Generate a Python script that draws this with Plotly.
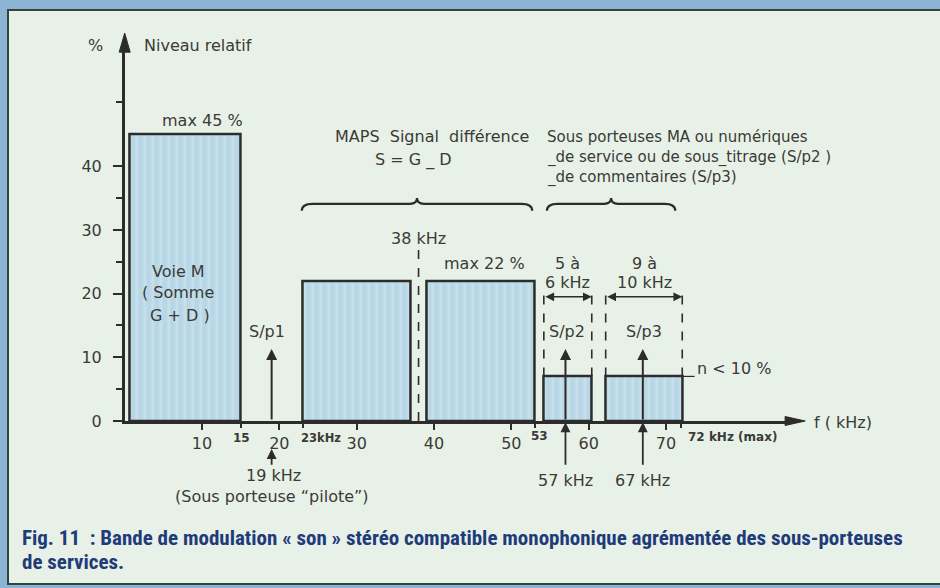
import plotly.graph_objects as go

# ---------------- data ----------------
# occupied bands of the stereo multiplex (kHz) and their maximum relative level (%)
band_names = ["Voie M", "MAPS bas", "MAPS haut", "S/p2", "S/p3"]
band_start = [0.7, 23.0, 39.0, 54.2, 62.2]
band_end = [15.0, 37.0, 53.0, 60.4, 72.1]
band_level = [45, 22, 22, 7, 7]

# sub-carriers (kHz)
carrier_names = ["S/p1", "S/p2", "S/p3"]
carrier_freq = [19, 57, 67]
carrier_top = 11.3

# suppressed stereo carrier (kHz)
stereo_carrier = 38

# axis ticks
x_tick_vals = [10, 20, 30, 40, 50, 60, 70]
x_minor_vals = [15, 23, 53, 72]
y_tick_vals = [0, 10, 20, 30, 40]
y_minor_vals = [5, 15, 25, 35, 50]

# ---------------- geometry of the drawing ----------------
W, H = 940, 588
X0_PX, KHZ_PX = 124.7, 7.733     # pixel of 0 kHz, pixels per kHz
Y0_PX, PCT_PX = 421.0, 6.37      # pixel of 0 %, pixels per %
X_MAX, Y_MAX = 86.0, 58.5        # extent of the drawn axes

INK = "#3a3a36"
LINE = "#2c2c2a"
BAR_FILL = "#b8d7e6"
PANEL = "#e8f1e8"
FRAME = "#8ab4d2"
CAPTION = "#1f3b79"
FONT = "DejaVu Sans"

centers = [(a + b) / 2 for a, b in zip(band_start, band_end)]
widths = [b - a for a, b in zip(band_start, band_end)]

fig = go.Figure()

fig.add_trace(go.Bar(
    x=centers, y=band_level, width=widths, base=0,
    marker=dict(color=BAR_FILL, line=dict(color=LINE, width=2.5),
                pattern=dict(shape="|", fgcolor="#cfe4ee", fgopacity=0.6,
                             size=8, solidity=0.35)),
    hoverinfo="skip", showlegend=False, xaxis="x", yaxis="y",
))

# invisible helper trace so the overlay axes exist
fig.add_trace(go.Scatter(x=[0], y=[0], mode="markers", marker=dict(opacity=0),
                         xaxis="x2", yaxis="y2", showlegend=False, hoverinfo="skip"))

x2_range = [-X0_PX / KHZ_PX, (W - X0_PX) / KHZ_PX]
y2_range = [-(H - Y0_PX) / PCT_PX, Y0_PX / PCT_PX]

fig.update_layout(
    width=W, height=H, margin=dict(l=0, r=0, t=0, b=0, pad=0, autoexpand=False),
    paper_bgcolor=FRAME, plot_bgcolor="rgba(0,0,0,0)",
    bargap=0, showlegend=False,
    font=dict(family=FONT, color=INK, size=16),
    xaxis=dict(
        domain=[X0_PX / W, (X0_PX + X_MAX * KHZ_PX) / W], range=[0, X_MAX],
        showgrid=False, zeroline=False, showline=True, linecolor=LINE, linewidth=2.5,
        ticks="outside", ticklen=6, tickwidth=2, tickcolor=LINE,
        tickvals=x_tick_vals, ticktext=[str(v) for v in x_tick_vals],
        tickfont=dict(size=16, color=INK, family=FONT),
        minor=dict(tickvals=x_minor_vals, ticks="outside", ticklen=4, tickwidth=2, tickcolor=LINE),
        anchor="y", fixedrange=True, automargin=False,
    ),
    yaxis=dict(
        domain=[(H - Y0_PX) / H, (H - Y0_PX + Y_MAX * PCT_PX) / H], range=[0, Y_MAX],
        showgrid=False, zeroline=False, showline=True, linecolor=LINE, linewidth=2.5,
        ticks="outside", ticklen=9, tickwidth=2, tickcolor=LINE,
        tickvals=y_tick_vals, ticktext=[str(v) for v in y_tick_vals],
        tickfont=dict(size=16, color=INK, family=FONT), ticklabelstandoff=8,
        minor=dict(tickvals=y_minor_vals, ticks="outside", ticklen=6, tickwidth=2, tickcolor=LINE),
        anchor="x", fixedrange=True, automargin=False,
    ),
    xaxis2=dict(domain=[0, 1], range=x2_range, visible=False, anchor="y2",
                fixedrange=True, automargin=False),
    yaxis2=dict(domain=[0, 1], range=y2_range, visible=False, anchor="x2",
                fixedrange=True, automargin=False),
)

shapes = []
annotations = []

# light panel with dark border on the blue frame
shapes.append(dict(type="rect", xref="paper", yref="paper", layer="below",
                   x0=8 / W, x1=1.02, y0=1 - 584 / H, y1=1 - 10 / H,
                   fillcolor=PANEL, line=dict(color="#34433d", width=2)))

# axis arrow heads
hw_x = 5.5 / KHZ_PX
shapes.append(dict(type="path", xref="x2", yref="y2", fillcolor=LINE, line=dict(color=LINE, width=1),
                   path=f"M {-hw_x} {Y_MAX - 0.6} L 0 {Y_MAX + 2.4} L {hw_x} {Y_MAX - 0.6} Z"))
hw_y = 4.5 / PCT_PX
shapes.append(dict(type="path", xref="x2", yref="y2", fillcolor=LINE, line=dict(color=LINE, width=1),
                   path=f"M {X_MAX - 0.6} {hw_y} L {X_MAX + 2.0} 0 L {X_MAX - 0.6} {-hw_y} Z"))

# dashed marker of the suppressed 38 kHz carrier
shapes.append(dict(type="line", xref="x2", yref="y2", x0=stereo_carrier, x1=stereo_carrier,
                   y0=0, y1=27.2, line=dict(color=LINE, width=1.6, dash="dash")))

# dashed limits of the S/p2 and S/p3 bands + width arrows
for i in (3, 4):
    for xv in (band_start[i], band_end[i]):
        shapes.append(dict(type="line", xref="x2", yref="y2", x0=xv, x1=xv,
                           y0=band_level[i], y1=21.0,
                           line=dict(color=LINE, width=1.6, dash="dash")))
    annotations.append(dict(xref="x2", yref="y2", axref="x2", ayref="y2",
                            x=band_end[i], y=19.5, ax=band_start[i], ay=19.5, text="",
                            showarrow=True, arrowhead=2, arrowside="end+start",
                            arrowsize=1.1, arrowwidth=1.6, arrowcolor=LINE, standoff=0, startstandoff=0))

# leader for "n < 10 %"
shapes.append(dict(type="line", xref="x2", yref="y2", x0=band_end[4], x1=band_end[4] + 1.6,
                   y0=band_level[4], y1=band_level[4], line=dict(color=LINE, width=1.2)))


# curly braces above the MAPS band and the sub-carrier band
def brace(x0, x1, y_end=33.0, y_line=34.1, y_peak=35.0):
    xm = (x0 + x1) / 2
    d = 1.4
    e = 0.9
    return (f"M {x0} {y_end} Q {x0} {y_line} {x0 + d} {y_line} "
            f"L {xm - e} {y_line} Q {xm} {y_line} {xm} {y_peak} "
            f"Q {xm} {y_line} {xm + e} {y_line} "
            f"L {x1 - d} {y_line} Q {x1} {y_line} {x1} {y_end}")


shapes.append(dict(type="path", xref="x2", yref="y2", path=brace(22.9, 52.7),
                   line=dict(color=LINE, width=2.2)))
shapes.append(dict(type="path", xref="x2", yref="y2", path=brace(54.6, 71.2),
                   line=dict(color=LINE, width=2.2)))

# carrier arrows inside the spectrum
for f in carrier_freq:
    annotations.append(dict(xref="x2", yref="y2", axref="x2", ayref="y2",
                            x=f, y=carrier_top, ax=f, ay=0, text="", showarrow=True,
                            arrowhead=2, arrowsize=1.1, arrowwidth=2, arrowcolor=LINE,
                            standoff=0))

# carrier arrows under the frequency axis
annotations.append(dict(xref="x2", yref="y2", axref="x2", ayref="y2",
                        x=carrier_freq[0], y=-4.4, ax=carrier_freq[0], ay=-7.1, text="",
                        showarrow=True, arrowhead=2, arrowsize=1.1, arrowwidth=1.8,
                        arrowcolor=LINE, standoff=0))
for f in carrier_freq[1:]:
    annotations.append(dict(xref="x2", yref="y2", axref="x2", ayref="y2",
                            x=f, y=-0.2, ax=f, ay=-7.1, text="",
                            showarrow=True, arrowhead=2, arrowsize=1.1, arrowwidth=1.8,
                            arrowcolor=LINE, standoff=0))


def label(x, y, text, size=16, xanchor="center", bold=False):
    t = f"<b>{text}</b>" if bold else text
    annotations.append(dict(xref="x2", yref="y2", x=x, y=y, text=t, showarrow=False,
                            xanchor=xanchor, yanchor="middle",
                            font=dict(family=FONT, size=size, color=INK)))


# axis titles
label(-3.8, 59.0, "%", 16)
label(2.2, 59.0, "Niveau relatif", 16, xanchor="left")
label(X_MAX + 2.9, -0.3, "f ( kHz)", 16, xanchor="left")

# band labels
label(10.1, 47.1, "max 45 %")
label(6.9, 23.4, "Voie M")
label(6.9, 20.1, "( Somme")
label(7.2, 16.6, "G + D )")
label(46.5, 24.8, "max 22 %")
label(stereo_carrier, 28.7, "38 kHz")
label(39.7, 44.6, "MAPS  Signal  différence")
label(37.3, 41.0, "S = G _ D")
label(54.4, 44.6, "Sous porteuses MA ou numériques", 15, xanchor="left")
label(54.4, 41.4, "_de service ou de sous_titrage (S/p2 )", 15, xanchor="left")
label(54.4, 38.3, "_de commentaires (S/p3)", 15, xanchor="left")
label(57.3, 24.8, "5 à")
label(57.3, 21.7, "6 kHz")
label(67.2, 24.8, "9 à")
label(67.2, 21.7, "10 kHz")
label(73.8, 8.2, "n < 10 %", xanchor="left")

# carrier labels
label(carrier_freq[0] - 0.6, 14.0, carrier_names[0])
label(carrier_freq[1] + 0.2, 14.0, carrier_names[1])
label(carrier_freq[2] + 0.2, 14.0, carrier_names[2])
label(carrier_freq[0] + 0.3, -8.6, f"{carrier_freq[0]} kHz")
label(carrier_freq[0], -11.8, "(Sous porteuse “pilote”)")
label(carrier_freq[1], -9.3, f"{carrier_freq[1]} kHz")
label(carrier_freq[2], -9.3, f"{carrier_freq[2]} kHz")

# secondary frequency marks on the axis
label(15.1, -2.6, "15", 12, bold=True)
label(22.5, -2.6, "23kHz", 11.5, xanchor="left", bold=True)
label(53.7, -2.3, "53", 12, bold=True)
label(72.6, -2.5, "72 kHz (max)", 12, xanchor="left", bold=True)

# caption
cap_font = dict(family="Liberation Sans Narrow, Roboto Condensed, Roboto, sans-serif",
                size=21, color=CAPTION)
annotations.append(dict(xref="paper", yref="paper", x=20 / W, y=1 - 538 / H,
                        xanchor="left", yanchor="middle", showarrow=False,
                        text="<b>Fig. 11  : Bande de modulation « son » stéréo compatible monophonique agrémentée des sous-porteuses</b>",
                        font=cap_font))
annotations.append(dict(xref="paper", yref="paper", x=20 / W, y=1 - 562 / H,
                        xanchor="left", yanchor="middle", showarrow=False,
                        text="<b>de services.</b>", font=cap_font))

fig.update_layout(shapes=shapes, annotations=annotations)

fig.write_html("out.html")
